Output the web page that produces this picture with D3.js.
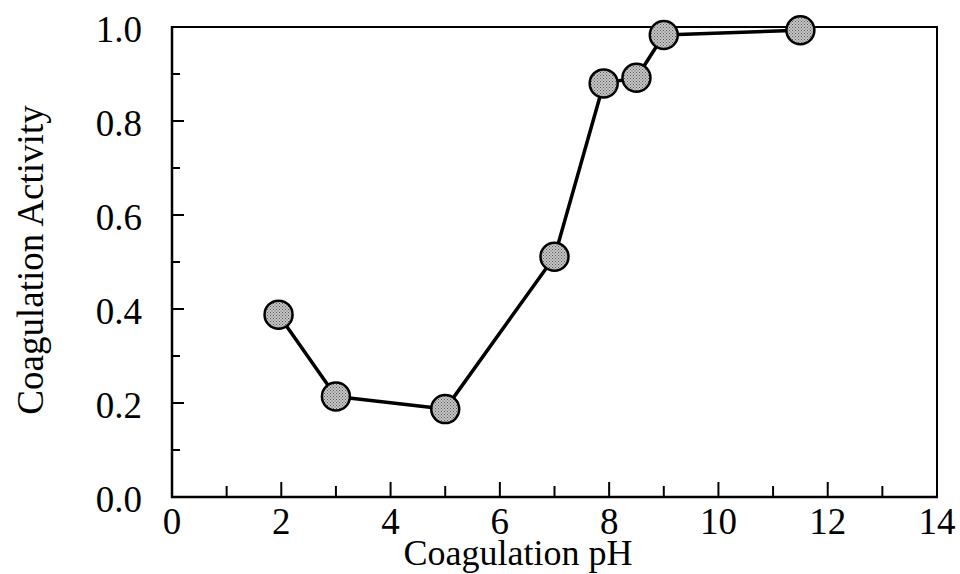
<!DOCTYPE html>
<html>
<head>
<meta charset="utf-8">
<script src="https://cdn.jsdelivr.net/npm/d3@7"></script>
<style>
  html, body { margin: 0; padding: 0; background: #fff; }
  svg { display: block; }
  text { font-family: "Liberation Serif", "Times New Roman", serif; fill: #000; }
</style>
</head>
<body>
<svg id="chart" width="960" height="574"></svg>
<script>
// Data
const phValues = [1.95, 3.0, 5.0, 7.0, 7.9, 8.5, 9.0, 11.5];
const activityValues = [0.388, 0.214, 0.187, 0.511, 0.880, 0.892, 0.983, 0.993];
const xTickValues = [0, 2, 4, 6, 8, 10, 12, 14];
const xMinorTickValues = [1, 3, 5, 7, 9, 11, 13];
const yTickValues = [0.0, 0.2, 0.4, 0.6, 0.8, 1.0];
const yMinorTickValues = [0.1, 0.3, 0.5, 0.7, 0.9];
const xTitle = "Coagulation pH";
const yTitle = "Coagulation Activity";

const svg = d3.select("#chart");
const plot = { left: 172, right: 937, top: 27, bottom: 497 };

const x = d3.scaleLinear().domain([0, 14]).range([plot.left, plot.right]);
const y = d3.scaleLinear().domain([0, 1]).range([plot.bottom, plot.top]);

// Box (top & right)
svg.append("path")
  .attr("d", `M${plot.left},${plot.top}H${plot.right}V${plot.bottom}`)
  .attr("fill", "none").attr("stroke", "#000").attr("stroke-width", 2);

// Bottom axis
const xAxis = svg.append("g").attr("transform", `translate(0,${plot.bottom})`);
xAxis.append("line").attr("x1", plot.left - 1).attr("x2", plot.right + 1)
  .attr("stroke", "#000").attr("stroke-width", 2.5);
xAxis.selectAll(".maj").data(xTickValues.filter(v => v > 0 && v < 14)).join("line")
  .attr("x1", d => x(d)).attr("x2", d => x(d)).attr("y1", 0).attr("y2", -15)
  .attr("stroke", "#000").attr("stroke-width", 2);
xAxis.selectAll(".min").data(xMinorTickValues).join("line")
  .attr("x1", d => x(d)).attr("x2", d => x(d)).attr("y1", 0).attr("y2", -11)
  .attr("stroke", "#000").attr("stroke-width", 2);
xAxis.selectAll("text").data(xTickValues).join("text")
  .attr("x", d => x(d)).attr("y", 37)
  .attr("text-anchor", "middle").attr("font-size", 37)
  .text(d => d3.format("d")(d));

// Left axis
const yAxis = svg.append("g").attr("transform", `translate(${plot.left},0)`);
yAxis.append("line").attr("y1", plot.top - 1).attr("y2", plot.bottom + 1)
  .attr("stroke", "#000").attr("stroke-width", 2.5);
yAxis.selectAll(".maj").data(yTickValues.filter(v => v > 0 && v < 1)).join("line")
  .attr("y1", d => y(d)).attr("y2", d => y(d)).attr("x1", 0).attr("x2", 12)
  .attr("stroke", "#000").attr("stroke-width", 2);
yAxis.selectAll(".min").data(yMinorTickValues).join("line")
  .attr("y1", d => y(d)).attr("y2", d => y(d)).attr("x1", 0).attr("x2", 8)
  .attr("stroke", "#000").attr("stroke-width", 2);
yAxis.selectAll("text").data(yTickValues).join("text")
  .attr("x", -30).attr("y", d => y(d) + 15)
  .attr("text-anchor", "end").attr("font-size", 37)
  .text(d => d3.format(".1f")(d));

// Axis titles
svg.append("text")
  .attr("x", 518).attr("y", 565)
  .attr("text-anchor", "middle").attr("font-size", 36)
  .text(xTitle);
svg.append("text")
  .attr("transform", `translate(43,260) rotate(-90)`)
  .attr("text-anchor", "middle").attr("font-size", 37)
  .text(yTitle);

// Line
const pts = phValues.map((p, i) => [p, activityValues[i]]);
svg.append("path")
  .datum(pts)
  .attr("d", d3.line().x(d => x(d[0])).y(d => y(d[1])))
  .attr("fill", "none").attr("stroke", "#000").attr("stroke-width", 3.5)
  .attr("stroke-linejoin", "round");

// Stipple pattern for markers
const defs = svg.append("defs");
const pat = defs.append("pattern").attr("id", "stipple")
  .attr("width", 3).attr("height", 3).attr("patternUnits", "userSpaceOnUse");
pat.append("rect").attr("width", 3).attr("height", 3).attr("fill", "#c8c8c8");
pat.append("rect").attr("width", 1).attr("height", 1).attr("fill", "#555");
pat.append("rect").attr("x", 1.5).attr("y", 1.5).attr("width", 1).attr("height", 1).attr("fill", "#555");

svg.selectAll("circle.pt").data(pts).join("circle")
  .attr("class", "pt")
  .attr("cx", d => x(d[0])).attr("cy", d => y(d[1]))
  .attr("r", 14)
  .attr("fill", "url(#stipple)")
  .attr("stroke", "#000").attr("stroke-width", 2.5);
</script>
</body>
</html>
